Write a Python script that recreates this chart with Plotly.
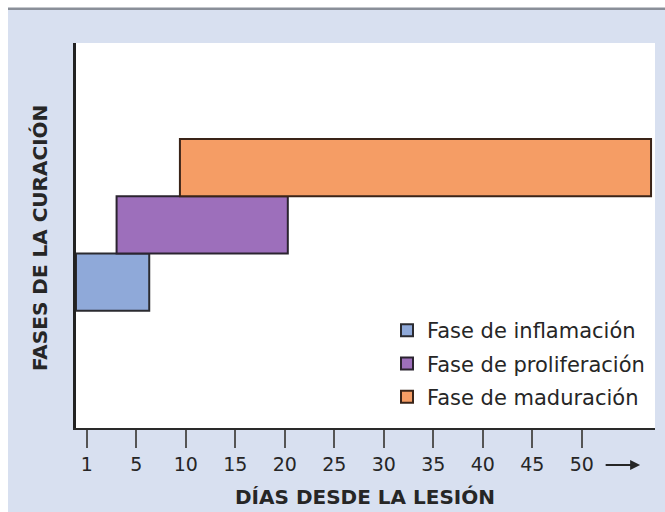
import plotly.graph_objects as go

# Healing phases: start and end position along the day axis
fases = ["Fase de inflamación", "Fase de proliferación", "Fase de maduración"]
inicio = [-1.1, 3.0, 9.4]
fin = [6.3, 20.3, 57.0]
colores = ["#8fa9d9", "#9d6fbb", "#f59d65"]
bordes = ["#2b2b30", "#2b2430", "#3a2418"]

# Day axis ticks
dias_pos = [0, 5, 10, 15, 20, 25, 30, 35, 40, 45, 50]
dias_txt = ["1", "5", "10", "15", "20", "25", "30", "35", "40", "45", "50"]

fig = go.Figure()
for i, nombre in enumerate(fases):
    fig.add_trace(go.Bar(
        name=nombre,
        y=[i],
        x=[fin[i] - inicio[i]],
        base=[inicio[i]],
        orientation="h",
        width=1.0,
        marker=dict(color=colores[i], line=dict(color=bordes[i], width=2)),
        legendgroup=nombre,
        hoverinfo="skip",
    ))

W, H = 665, 512
L, R, T, B = 76, 10, 43, 84
pw = W - L - R
ph = H - T - B


def px_x(p):
    return (p - L) / pw


def px_y(p):
    return (H - B - p) / ph


fig.update_layout(
    width=W, height=H,
    margin=dict(l=L, r=R, t=T, b=B, pad=0),
    paper_bgcolor="#d8e0f0",
    plot_bgcolor="#ffffff",
    barmode="overlay",
    showlegend=True,
    legend=dict(
        x=px_x(387), xanchor="left",
        y=px_y(310), yanchor="top",
        bgcolor="rgba(0,0,0,0)",
        font=dict(family="DejaVu Sans", size=21, color="#262626"),
        traceorder="grouped",
        tracegroupgap=3,
    ),
    xaxis=dict(
        range=[-1.1, 57.4],
        tickmode="array", tickvals=dias_pos, ticktext=dias_txt,
        ticks="outside", ticklen=18, tickwidth=2, tickcolor="#555555",
        tickfont=dict(family="DejaVu Sans", size=19, color="#262626"),
        showline=True, linecolor="#2a2a2a", linewidth=2,
        showgrid=False, zeroline=False,
    ),
    yaxis=dict(
        range=[-2.55, 4.175],
        showticklabels=False, ticks="",
        showline=True, linecolor="#222222", linewidth=3,
        showgrid=False, zeroline=False,
    ),
    font=dict(family="DejaVu Sans", color="#262626"),
)

# Axis titles
fig.add_annotation(
    text="DÍAS DESDE LA LESIÓN",
    xref="paper", yref="paper", x=px_x(365), y=px_y(497),
    xanchor="center", yanchor="middle", showarrow=False,
    font=dict(family="DejaVu Sans", size=20, color="#262626", weight="bold"),
)
fig.add_annotation(
    text="FASES DE LA CURACIÓN",
    xref="paper", yref="paper", x=px_x(40), y=px_y(238),
    xanchor="center", yanchor="middle", showarrow=False, textangle=-90,
    font=dict(family="DejaVu Sans", size=20, color="#262626", weight="bold"),
)

# Arrow after the last day tick
fig.add_annotation(
    text="", xref="x", yref="paper", x=55.9, y=px_y(465),
    showarrow=True, ax=-36, ay=0, arrowhead=2, arrowsize=1,
    arrowwidth=2, arrowcolor="#262626",
)

# Frame: white margin strips and grey rule along the top
fig.add_shape(type="rect", xref="paper", yref="paper",
              x0=px_x(0), x1=px_x(W), y0=px_y(0), y1=px_y(8),
              fillcolor="#ffffff", line=dict(width=0), layer="above")
fig.add_shape(type="rect", xref="paper", yref="paper",
              x0=px_x(0), x1=px_x(8), y0=px_y(0), y1=px_y(H),
              fillcolor="#ffffff", line=dict(width=0), layer="above")
fig.add_shape(type="rect", xref="paper", yref="paper",
              x0=px_x(8), x1=px_x(W), y0=px_y(7.5), y1=px_y(10),
              fillcolor="#8a8f99", line=dict(width=0), layer="above")

fig.write_html("out.html")
